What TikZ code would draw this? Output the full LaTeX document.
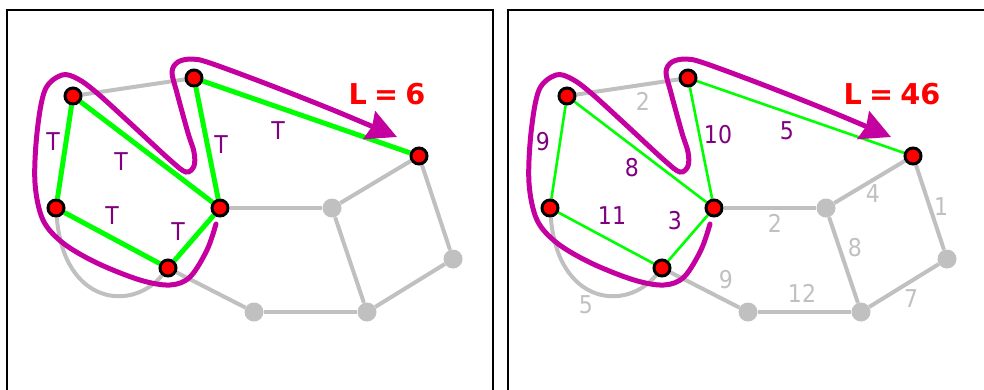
\documentclass[tikz,border=0pt]{standalone}
\usepackage{fontspec}
\setmainfont{DejaVu Sans}
\newfontfamily\lblfont[FakeStretch=0.9]{DejaVu Sans}
\usetikzlibrary{arrows.meta}
\definecolor{gedge}{RGB}{192,192,192}
\definecolor{tgreen}{RGB}{0,255,0}
\definecolor{tourc}{RGB}{196,0,160}
\definecolor{labc}{RGB}{128,0,128}
\definecolor{lredc}{RGB}{255,0,0}
\pgfdeclarelayer{bg}
\pgfsetlayers{bg,main}
\newcommand\panelgraph[3]{%
\begin{scope}[xshift=#2]
\node[vis] (#1A) at (73,96) {};
\node[vis] (#1B) at (194,78) {};
\node[vis] (#1C) at (56,208) {};
\node[vis] (#1D) at (168,268) {};
\node[vis] (#1E) at (220,208) {};
\node[vis] (#1F) at (419,156) {};
\node[unvis] (#1G) at (332,208) {};
\node[unvis] (#1H) at (453,259) {};
\node[unvis] (#1I) at (367,312) {};
\node[unvis] (#1J) at (254,312) {};
\begin{pgfonlayer}{bg}
\draw[gline] (#1A) -- (#1B);
\draw[gline] (#1C) .. controls (64,305) and (132,312) .. (#1D);
\draw[gline] (#1E) -- (#1G);
\draw[gline] (#1G) -- (#1F);
\draw[gline] (#1F) -- (#1H);
\draw[gline] (#1G) -- (#1I);
\draw[gline] (#1H) -- (#1I);
\draw[gline] (#1I) -- (#1J);
\draw[gline] (#1J) -- (#1D);
\draw[#3] (#1A) -- (#1C);
\draw[#3] (#1A) -- (#1E);
\draw[#3] (#1C) -- (#1D);
\draw[#3] (#1D) -- (#1E);
\draw[#3] (#1E) -- (#1B);
\draw[#3] (#1B) -- (#1F);
\draw[tourline] plot[smooth,tension=0.55] coordinates {(216,224) (207,250) (190,277) (170,285) (140,280) (97,263) (63,243) (43,220) (35,183) (37,133) (45,90) (62,75) (78,79) (97,93) (130,123) (170,160) (186,172) (194,166) (194,152) (188,133) (177,93) (172,72) (178,62) (192,59) (210,63) (267,84) (333,110) (397,137)};
\end{pgfonlayer}
\end{scope}}
\begin{document}
\begin{tikzpicture}[x=1pt,y=-1pt,
  vis/.style={circle,fill=red,draw=black,line width=3pt,minimum size=16pt,inner sep=0pt},
  unvis/.style={circle,fill=gedge,minimum size=19pt,inner sep=0pt},
  gline/.style={draw=gedge,line width=4pt},
  tthick/.style={draw=tgreen,line width=5pt},
  tthin/.style={draw=tgreen,line width=2.6pt},
  tourline/.style={draw=tourc,line width=5pt,line cap=round,-{Stealth[length=30pt,width=30pt,inset=3pt]}},
  lbl/.style={text=labc,font=\lblfont\fontsize{24.5}{28}\selectfont,inner sep=0pt},
  glbl/.style={text=gedge,font=\lblfont\fontsize{24.5}{28}\selectfont,inner sep=0pt},
  bigl/.style={text=lredc,font=\bfseries\fontsize{28.7}{32}\selectfont,inner sep=0pt},
  frame/.style={draw=black,line width=2pt}]
\useasboundingbox (0,0) rectangle (984,389);
\clip (0,0) rectangle (984,389);
\draw[frame] (7,400) -- (7,10) -- (493,10) -- (493,400);
\draw[frame] (508,400) -- (508,10) -- (1000,10);
\panelgraph{l}{0pt}{tthick}
\panelgraph{r}{494pt}{tthin}
% left labels
\node[lbl] (lt1) at (53,142) {T};
\node[lbl] (lt2) at (121,162) {T};
\node[lbl] (lt3) at (221,145) {T};
\node[lbl] (lt4) at (278,131) {T};
\node[lbl] (lt5) at (112,216) {T};
\node[lbl] (lt6) at (178,232) {T};
\node[bigl] (lL) at (387,94) {L\hspace{0.25em}=\hspace{0.25em}6};
% right labels
\node[lbl] (rw1) at (543,142) {9};
\node[lbl] (rw2) at (632,168) {8};
\node[lbl] (rw3) at (718,135) {10};
\node[lbl] (rw4) at (787,131) {5};
\node[lbl] (rw5) at (612,216) {11};
\node[lbl] (rw6) at (675,221) {3};
\node[glbl] (rg1) at (643,101) {2};
\node[glbl] (rg2) at (775,223) {2};
\node[glbl] (rg3) at (873,194) {4};
\node[glbl] (rg4) at (941,207) {1};
\node[glbl] (rg5) at (855,248) {8};
\node[glbl] (rg6) at (726,280) {9};
\node[glbl] (rg7) at (802,293) {12};
\node[glbl] (rg8) at (911,299) {7};
\node[glbl] (rg9) at (586,305) {5};
\node[bigl] (rL) at (892,94) {L\hspace{0.25em}=\hspace{0.25em}46};
\end{tikzpicture}
\end{document}
